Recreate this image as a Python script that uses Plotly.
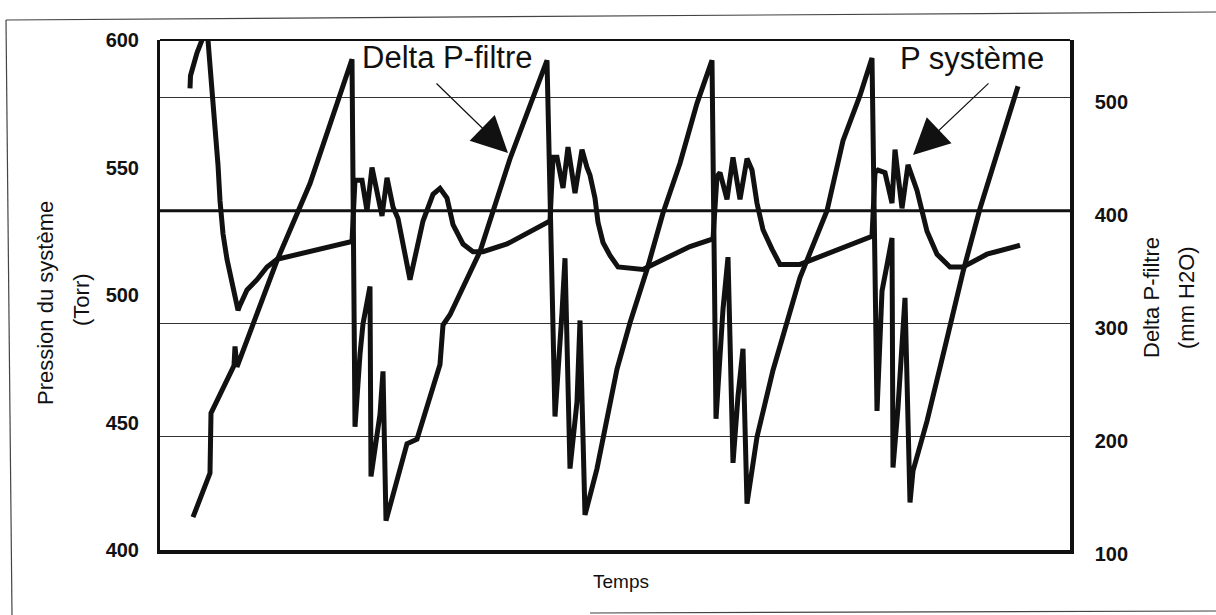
import plotly.graph_objects as go

# ---------------- data ----------------
# Delta P-filtre (mm H2O, right axis)
dp_t = [33, 50, 51, 74, 75, 77, 117, 150, 192, 195, 200, 203, 210, 211, 220, 223, 226,
        233, 247, 257, 280, 283, 290, 320, 350, 387,
        395, 402, 405, 410, 417, 420, 425, 437, 457, 470, 487, 503, 520, 537, 552,
        556, 563, 568, 573, 578, 583, 587, 597, 613, 640, 667, 683, 700, 712,
        717, 722, 727, 732, 733, 738, 745, 750, 753, 767, 787, 803, 820, 833, 847, 858]
dp_v = [129, 168, 221, 263, 280, 262, 356, 424, 534, 209, 273, 300, 333, 165, 220, 258, 126,
        150, 194, 198, 264, 299, 308, 364, 446, 533,
        218, 310, 358, 172, 231, 303, 131, 172, 260, 301, 348, 398, 442, 495, 533,
        216, 313, 359, 177, 236, 278, 141, 200, 259, 341, 400, 462, 502, 535,
        223, 329, 352, 376, 173, 226, 323, 142, 170, 214, 287, 346, 402, 440, 478, 510]

# P systeme (Torr, left axis)
ps_t = [30, 30.5, 37, 42, 45, 48, 50, 53, 55, 58, 60, 63, 67, 72, 78, 80, 87, 97, 107, 117,
        127, 157, 192, 195, 202, 207, 212, 222, 227, 233, 238, 243, 250, 263, 273, 280, 287,
        293, 303, 313, 323, 347, 390,
        393, 397, 403, 408, 415, 422, 427, 430, 435, 438, 443, 450, 458, 483, 493, 510, 530, 553,
        557, 560, 567, 573, 580, 587, 592, 597, 603, 612, 620, 640, 653, 680, 712,
        715, 718, 725, 732, 735, 742, 748, 757, 762, 767, 777, 790, 803, 827, 860]
ps_v = [581, 586, 595, 600, 606, 600, 590, 577, 564, 551, 537, 524, 514, 504, 494, 496, 502, 506, 511, 514,
        515, 518, 521, 545, 545, 533, 550, 531, 546, 534.5, 530, 520, 506, 529, 539.5, 541.8, 538,
        527.6, 520, 517, 517, 520, 529,
        554, 554, 542, 558, 540, 557, 550, 547, 538, 528.5, 520.6, 515.5, 511, 510, 512, 515, 519, 522,
        546.5, 548, 537.5, 554, 537.5, 553.5, 549, 536, 525.6, 518, 512, 512, 514, 518, 523,
        548, 549, 548, 536, 557, 534, 551, 541, 533, 525, 516, 511, 511, 516, 519.5]

t_range = [0, 910]
left_range = [400, 600]
left_ticks = [400, 450, 500, 550, 600]
right_range = [100, 551]
right_ticks = [100, 200, 300, 400, 500]
seuil_dp = 400  # thick reference line (mm H2O)

# ---------------- layout helpers ----------------
W, H = 1216, 615
L, R, T, B = 160, 1070, 40, 550


def px(x):
    return (x - L) / (R - L)


def py(y):
    return (B - y) / (B - T)


FONT = "Liberation Sans, Arial, sans-serif"
INK = "#111111"

fig = go.Figure()
fig.add_trace(go.Scatter(x=ps_t, y=ps_v, mode="lines", yaxis="y",
                         line=dict(color=INK, width=5), name="P système",
                         showlegend=False))
fig.add_trace(go.Scatter(x=dp_t, y=dp_v, mode="lines", yaxis="y2",
                         line=dict(color=INK, width=5), name="Delta P-filtre",
                         showlegend=False))

fig.update_layout(
    width=W, height=H,
    margin=dict(l=L, r=W - R, t=T, b=H - B, pad=0),
    paper_bgcolor="white", plot_bgcolor="white",
    showlegend=False,
    xaxis=dict(range=t_range, showticklabels=False, ticks="", showgrid=False,
               zeroline=False, showline=True, linecolor=INK, linewidth=3.5),
    yaxis=dict(range=left_range, tickvals=left_ticks, ticks="", showgrid=False,
               zeroline=False, showline=True, linecolor=INK, linewidth=3,
               ticklabelstandoff=14,
               tickfont=dict(family=FONT, size=20, color=INK, weight="bold")),
    yaxis2=dict(range=right_range, tickvals=right_ticks, ticks="", overlaying="y",
                side="right", showgrid=True, gridcolor="#333333", gridwidth=1.2,
                zeroline=False, showline=True, linecolor=INK, linewidth=3.5,
                ticklabelstandoff=17, ticklabelshift=4,
                tickfont=dict(family=FONT, size=20, color=INK, weight="bold")),
)

# thick reference line at 400 mm H2O
fig.add_shape(type="line", xref="paper", yref="y2", x0=0, x1=1, y0=seuil_dp, y1=seuil_dp,
              line=dict(color=INK, width=3))
# thinner top border of the plot
fig.add_shape(type="line", xref="paper", yref="paper", x0=0, x1=1, y0=1, y1=1,
              line=dict(color=INK, width=1.8))
# scanned outer frame
for (x0, y0, x1, y1) in [(6, 20, 12, 615), (6, 20, 1216, 12), (590, 613, 1216, 611)]:
    fig.add_shape(type="line", xref="paper", yref="paper",
                  x0=px(x0), y0=py(y0), x1=px(x1), y1=py(y1),
                  line=dict(color="#444444", width=1.2))

ann = []
# axis titles
ann.append(dict(text="Pression du système", x=px(45), y=py(303), textangle=-90,
                font=dict(family=FONT, size=22, color=INK)))
ann.append(dict(text="(Torr)", x=px(81), y=py(300), textangle=-90,
                font=dict(family=FONT, size=22, color=INK)))
ann.append(dict(text="Delta P-filtre", x=px(1151), y=py(298), textangle=-90,
                font=dict(family=FONT, size=22, color=INK)))
ann.append(dict(text="(mm H2O)", x=px(1186), y=py(298), textangle=-90,
                font=dict(family=FONT, size=22, color=INK)))
ann.append(dict(text="Temps", x=px(621), y=py(581),
                font=dict(family=FONT, size=19, color=INK)))
# series labels with arrows
ann.append(dict(text="Delta P-filtre", x=px(447), y=py(57),
                font=dict(family=FONT, size=31, color=INK)))
ann.append(dict(text="P système", x=px(972), y=py(59),
                font=dict(family=FONT, size=31, color=INK)))
ann.append(dict(text="", x=px(508), y=py(153), ax=-73, ay=-71, showarrow=True,
                arrowhead=2, arrowsize=6, arrowwidth=1.2, arrowcolor=INK, standoff=0))
ann.append(dict(text="", x=px(913), y=py(155), ax=77, ay=-73, showarrow=True,
                arrowhead=2, arrowsize=6, arrowwidth=1.2, arrowcolor=INK, standoff=0))

for a in ann:
    a.setdefault("showarrow", False)
    fig.add_annotation(xref="paper", yref="paper", xanchor="center", yanchor="middle", **a)

fig.write_html("out.html")
